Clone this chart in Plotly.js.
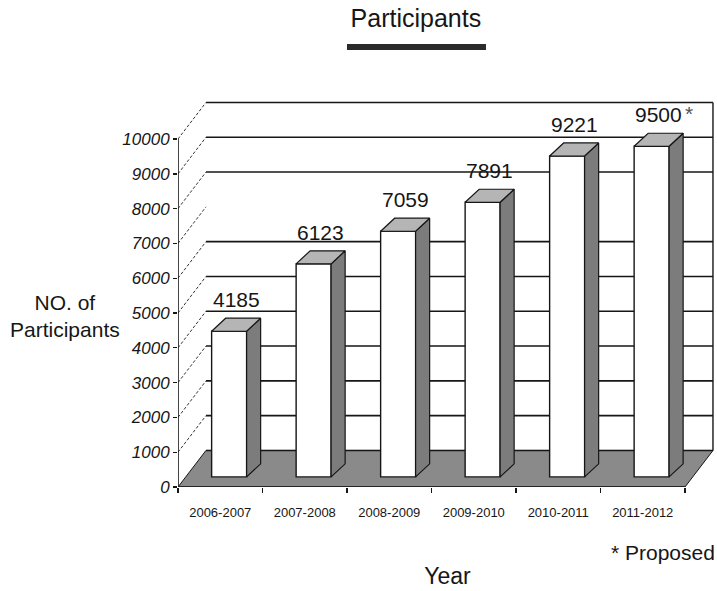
<!DOCTYPE html>
<html>
<head>
<meta charset="utf-8">
<script src="https://cdn.plot.ly/plotly-3.0.1.min.js"></script>
<style>html,body{margin:0;padding:0;background:#fff;}#chart{width:717px;height:591px;}</style>
</head>
<body>
<div id="chart"></div>
<script>
// ---- data ----
const years = ['2006-2007', '2007-2008', '2008-2009', '2009-2010', '2010-2011', '2011-2012'];
const participants = [4185, 6123, 7059, 7891, 9221, 9500];
const valueLabels = ['4185', '6123', '7059', '7891', '9221', '9500'];
const yTickVals = [0, 1000, 2000, 3000, 4000, 5000, 6000, 7000, 8000, 9000, 10000];
const yTickText = ['0', '1000', '2000', '3000', '4000', '5000', '6000', '7000', '8000', '9000', '10000'];
const wallLines = [0, 1000, 2000, 3000, 4000, 5000, 6000, 8000, 9000, 10000];
const proposedIndex = 5;

// ---- 3D look parameters (data units) ----
const WDX = 0.331, WDY = 1050;       // back wall offset
const BFX = 0.105, BFY = 290;        // bar front face offset from front plane
const BHW = 0.207;                   // half width of bar front face
const BDX = 0.166, BDY = 375;        // bar depth
const FONT = '"Liberation Sans", Arial, sans-serif';
const INK = '#161616';

const n = years.length;
const xL = -0.5, xR = n - 0.5;
const yMax = yTickVals[yTickVals.length - 1];

const shapes = [];
// floor
shapes.push({type: 'path', layer: 'below', xref: 'x', yref: 'y',
  path: `M${xL},0 L${xR},0 L${xR + WDX},${WDY} L${xL + WDX},${WDY} Z`,
  fillcolor: '#8a8a8a', line: {color: INK, width: 1}});
// back wall lines
wallLines.forEach(g => shapes.push({type: 'line', layer: 'below', xref: 'x', yref: 'y',
  x0: xL + WDX, x1: xR + WDX, y0: g + WDY, y1: g + WDY, line: {color: INK, width: 1.6}}));
// back wall right edge
shapes.push({type: 'line', layer: 'below', xref: 'x', yref: 'y',
  x0: xR + WDX, x1: xR + WDX, y0: WDY, y1: yMax + WDY, line: {color: INK, width: 1.4}});
// left side dashed diagonals
yTickVals.forEach(g => { if (g > 0) shapes.push({type: 'line', layer: 'below', xref: 'x', yref: 'y',
  x0: xL, x1: xL + WDX, y0: g, y1: g + WDY, line: {color: '#333', width: 1, dash: '3px,2px'}}); });
// front axes
shapes.push({type: 'line', layer: 'below', xref: 'x', yref: 'y', x0: xL, x1: xL, y0: 0, y1: yMax, line: {color: INK, width: 1.6}});
shapes.push({type: 'line', layer: 'below', xref: 'x', yref: 'y', x0: xL, x1: xR, y0: 0, y1: 0, line: {color: INK, width: 1.6}});
// title underline
shapes.push({type: 'rect', xref: 'paper', yref: 'paper', x0: 0.3135, x1: 0.5714, y0: 1.1008, y1: 1.1159,
  fillcolor: '#2a2a2a', line: {width: 0}});

const traces = [];
// bar front faces
traces.push({type: 'bar', x: participants.map((v, i) => i + BFX), y: participants, base: BFY,
  width: 2 * BHW, marker: {color: '#ffffff', line: {color: INK, width: 1.4}}, hoverinfo: 'skip'});
// side + top faces
participants.forEach((v, i) => {
  const xl = i + BFX - BHW, xr = i + BFX + BHW, yb = BFY, yt = BFY + v;
  traces.push({type: 'scatter', mode: 'lines', fill: 'toself', fillcolor: '#7c7c7c',
    x: [xr, xr + BDX, xr + BDX, xr, xr], y: [yb, yb + BDY, yt + BDY, yt, yb],
    line: {color: INK, width: 1.2}, hoverinfo: 'skip'});
  traces.push({type: 'scatter', mode: 'lines', fill: 'toself', fillcolor: '#b5b5b5',
    x: [xl, xl + BDX, xr + BDX, xr, xl], y: [yt, yt + BDY, yt + BDY, yt, yt],
    line: {color: INK, width: 1.2}, hoverinfo: 'skip'});
});

const annotations = [
  {xref: 'paper', yref: 'paper', x: -0.2096, y: 0.4307, text: 'NO. of<br>Participants', showarrow: false,
   font: {family: FONT, size: 21, color: INK}, align: 'center', xanchor: 'center', yanchor: 'middle'},
  {xref: 'paper', yref: 'paper', x: 1.0, y: -0.166, text: '* Proposed', showarrow: false,
   font: {family: FONT, size: 21, color: INK}, xanchor: 'right', yanchor: 'middle'},
  {xref: 'x', yref: 'y', x: proposedIndex + BFX + BDX / 2, y: BFY + participants[proposedIndex] + BDY,
   text: '*', showarrow: false, xanchor: 'center', yanchor: 'bottom', xshift: 30, yshift: 6,
   font: {family: FONT, size: 21, color: '#555'}}
];
// value labels
participants.forEach((v, i) => annotations.push({xref: 'x', yref: 'y', x: i + BFX + BDX / 2, y: BFY + v + BDY,
  text: valueLabels[i], showarrow: false, xanchor: 'center', yanchor: 'bottom', yshift: 5,
  font: {family: FONT, size: 21, color: INK}}));

const layout = {
  width: 717, height: 591,
  margin: {l: 178, r: 0, t: 90, b: 104},
  paper_bgcolor: '#fff', plot_bgcolor: 'rgba(0,0,0,0)',
  showlegend: false, hovermode: false,
  title: {text: 'Participants', x: 0.58, xref: 'container', xanchor: 'center', y: 0.969, yref: 'container', yanchor: 'middle',
    font: {family: FONT, size: 25, color: INK}},
  xaxis: {range: [xL, xL + 539 / 84.5], tickvals: years.map((c, i) => i), ticktext: years, ticks: '',
    showgrid: false, zeroline: false, showline: false, ticklabelstandoff: 16,
    tickfont: {family: FONT, size: 13, color: INK},
    minor: {tickvals: years.map((c, i) => i - 0.5).concat([xR]), ticks: 'outside', ticklen: 5, tickwidth: 1.4, tickcolor: INK, showgrid: false},
    title: {text: 'Year', standoff: 48, font: {family: FONT, size: 23, color: INK}}, automargin: false, fixedrange: true},
  yaxis: {range: [0, 397 / 0.0348], tickvals: yTickVals, ticktext: yTickText, ticks: 'outside', ticklen: 4, tickwidth: 1.4, tickcolor: INK,
    showgrid: false, zeroline: false, showline: false,
    tickfont: {family: FONT, size: 17, color: INK, style: 'italic'}, automargin: false, fixedrange: true},
  shapes: shapes,
  annotations: annotations
};

Plotly.newPlot('chart', traces, layout, {staticPlot: true, displayModeBar: false});
</script>
</body>
</html>
